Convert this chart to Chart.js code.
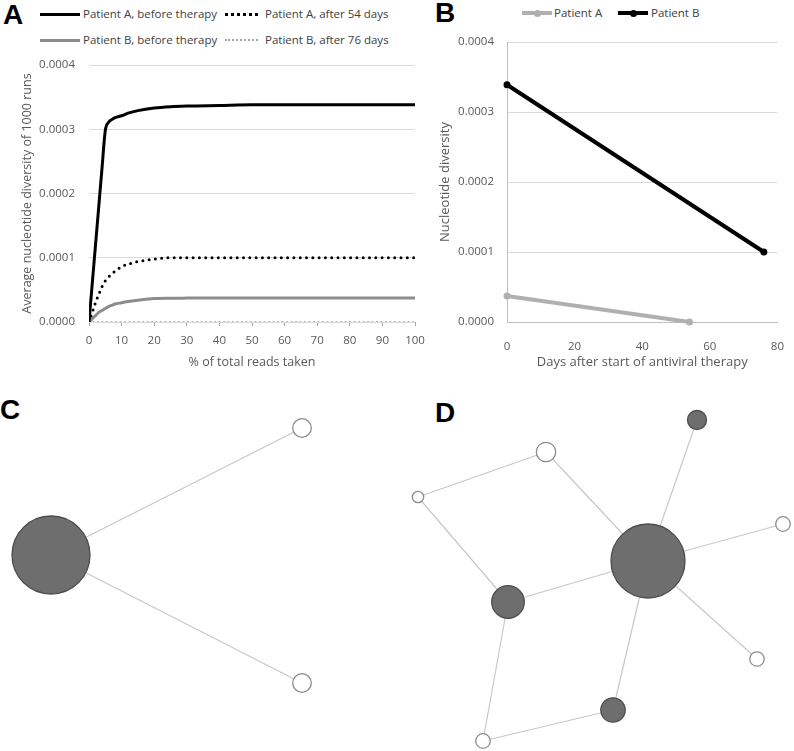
<!DOCTYPE html>
<html>
<head>
<meta charset="utf-8">
<script src="https://cdn.jsdelivr.net/npm/chart.js@4.4.1/dist/chart.umd.min.js"></script>
<style>
  body { margin: 0; background: #fff; width: 794px; height: 751px; position: relative; overflow: hidden; font-family: "Open Sans", sans-serif; }
  canvas { position: absolute; }
  .panel-label { position: absolute; font: bold 28px "Liberation Sans", Arial, sans-serif; line-height: 28px; color: #000; }
  .leg { position: absolute; font-size: 11.5px; color: #404040; line-height: 14px; white-space: nowrap; }
  .swatch { position: absolute; height: 0; }
  .marker { position: absolute; width: 7px; height: 7px; border-radius: 50%; }
</style>
</head>
<body>
<div class="panel-label" style="left:3px;top:1px">A</div>
<div class="panel-label" style="left:435px;top:-1px">B</div>
<div class="panel-label" style="left:0px;top:396px">C</div>
<div class="panel-label" style="left:435px;top:399px">D</div>

<!-- legend A -->
<div class="swatch" style="left:40px;top:12.5px;width:40px;border-top:3px solid #000"></div>
<div class="leg" style="left:83px;top:7px">Patient A, before therapy</div>
<div class="swatch" style="left:225px;top:12.5px;width:33px;border-top:3px dotted #000"></div>
<div class="leg" style="left:265px;top:7px">Patient A, after 54 days</div>
<div class="swatch" style="left:40px;top:38.5px;width:40px;border-top:3px solid #8c8c8c"></div>
<div class="leg" style="left:83px;top:33px">Patient B, before therapy</div>
<div class="swatch" style="left:225px;top:39px;width:33px;border-top:2px dotted #a6a6a6"></div>
<div class="leg" style="left:265px;top:33px">Patient B, after 76 days</div>

<!-- legend B -->
<div class="swatch" style="left:522px;top:11px;width:30px;border-top:4px solid #b0b0b0"></div>
<div class="marker" style="left:534px;top:10px;background:#b0b0b0"></div>
<div class="leg" style="left:554px;top:6px">Patient A</div>
<div class="swatch" style="left:618px;top:11px;width:30px;border-top:4px solid #000"></div>
<div class="marker" style="left:630px;top:10px;background:#000"></div>
<div class="leg" style="left:651px;top:6px">Patient B</div>

<canvas id="chartA" width="440" height="380" style="left:0;top:0"></canvas>
<canvas id="chartB" width="364" height="380" style="left:430px;top:0"></canvas>
<canvas id="chartC" width="400" height="371" style="left:0;top:380px"></canvas>
<canvas id="chartD" width="394" height="371" style="left:400px;top:380px"></canvas>

<script>
// --- Panel A: rarefaction curves ---
const readsPct = [0, 1, 2, 3, 4, 5, 6, 7, 8, 10, 12, 15, 20, 25, 30, 40, 50, 60, 70, 80, 90, 100];
const aBefore = [0, 0.00006, 0.00012, 0.00018, 0.00024, 0.000298, 0.000311, 0.000315, 0.000318, 0.000321, 0.000325, 0.000329, 0.000333, 0.000335, 0.000336, 0.000337, 0.000338, 0.000338, 0.000338, 0.000338, 0.000338, 0.000338];
const aAfter = [0, 0.000015, 0.00003, 0.000043, 0.000055, 0.000064, 0.00007, 0.000075, 0.000079, 0.000086, 0.00009, 0.000094, 0.000098, 0.0001, 0.0001, 0.0001, 0.0001, 0.0001, 0.0001, 0.0001, 0.0001, 0.0001];
const bBefore = [0, 0.000005, 0.00001, 0.000015, 0.000018, 0.000021, 0.000024, 0.000026, 0.000028, 0.00003, 0.000032, 0.000034, 0.0000365, 0.000037, 0.0000372, 0.0000375, 0.0000375, 0.0000375, 0.0000375, 0.0000375, 0.0000375, 0.0000375];
const bAfter = [0, 0, 0, 0, 0, 0, 0, 0, 0, 0, 0, 0, 0, 0, 0, 0, 0, 0, 0, 0, 0, 0];

// --- Panel B: diversity over time ---
const patientADays = [0, 54];
const patientADiv = [0.000037, 0];
const patientBDays = [0, 76];
const patientBDiv = [0.000339, 0.0001];

// --- Panel C / D: haplotype networks (layout position and node radius) ---
const netCX = [51, 302, 302];
const netCY = [175, 48, 303];
const netCR = [39, 9.3, 9.3];
const netCFilled = [true, false, false];
const netCFrom = [0, 0];
const netCTo = [1, 2];

const netDX = [248, 297, 146, 18, 383, 108, 357, 213, 83];
const netDY = [181, 40, 72, 117, 144, 222, 279, 330, 361];
const netDR = [37, 9.5, 9.7, 5.7, 7.3, 16.3, 7.2, 12.2, 7.3];
const netDFilled = [true, true, false, false, false, true, false, true, false];
const netDFrom = [3, 2, 3, 5, 0, 0, 0, 0, 5, 8];
const netDTo = [2, 0, 5, 0, 1, 4, 6, 7, 8, 7];

Chart.defaults.font.family = "'Open Sans', sans-serif";
Chart.defaults.font.size = 11.5;
Chart.defaults.color = '#595959';
Chart.defaults.animation = false;
Chart.defaults.responsive = false;
Chart.defaults.layout.autoPadding = false;
Chart.defaults.plugins.legend.display = false;
Chart.defaults.plugins.tooltip.enabled = false;

const toPoints = (xs, ys) => xs.map((x, i) => ({ x, y: ys[i] }));
const fixed4 = (v) => Number(v).toFixed(4);

function curve(data, color, width, dash) {
  return {
    data: toPoints(readsPct, data),
    borderColor: color,
    borderWidth: width,
    borderDash: dash || [],
    borderCapStyle: dash ? 'round' : 'butt',
    pointRadius: 0,
    cubicInterpolationMode: 'monotone',
    fill: false,
  };
}

new Chart(document.getElementById('chartA'), {
  type: 'line',
  data: {
    datasets: [
      curve(aBefore, '#000', 3),
      curve(aAfter, '#000', 3, [0, 6.3]),
      curve(bBefore, '#8c8c8c', 3),
      curve(bAfter, '#a6a6a6', 2, [0, 4.5]),
    ],
  },
  options: {
    layout: { padding: { top: 65, right: 25, left: 0, bottom: 0 } },
    scales: {
      x: {
        type: 'linear', min: 0, max: 100,
        ticks: { stepSize: 10, padding: 8 },
        grid: { drawOnChartArea: false, tickLength: 4, color: '#a6a6a6' },
        border: { display: false },
        title: { display: true, text: '% of total reads taken', font: { size: 12.5 }, padding: { top: 0, bottom: 10 } },
        afterFit: (s) => { s.height = 58; },
      },
      y: {
        min: 0, max: 0.0004,
        ticks: { stepSize: 0.0001, padding: 14, callback: fixed4 },
        grid: { color: '#d9d9d9', drawTicks: false },
        border: { display: false },
        title: { display: true, text: 'Average nucleotide diversity of 1000 runs', font: { size: 12.5 }, padding: { top: 20 } },
        afterFit: (s) => { s.width = 89; },
      },
    },
  },
});

new Chart(document.getElementById('chartB'), {
  type: 'line',
  data: {
    datasets: [
      {
        label: 'Patient A',
        data: toPoints(patientADays, patientADiv),
        borderColor: '#b0b0b0', backgroundColor: '#b0b0b0',
        borderWidth: 4, pointRadius: 3.5, pointBorderWidth: 0, clip: false,
      },
      {
        label: 'Patient B',
        data: toPoints(patientBDays, patientBDiv),
        borderColor: '#000', backgroundColor: '#000',
        borderWidth: 4, pointRadius: 3.5, pointBorderWidth: 0, clip: false,
      },
    ],
  },
  options: {
    layout: { padding: { top: 42, right: 16, left: 0, bottom: 0 } },
    scales: {
      x: {
        type: 'linear', min: 0, max: 80,
        ticks: { stepSize: 20, padding: 10 },
        grid: { display: false },
        border: { color: '#bfbfbf' },
        title: { display: true, text: 'Days after start of antiviral therapy', font: { size: 13 }, padding: { top: 0, bottom: 10 } },
        afterFit: (s) => { s.height = 58; },
      },
      y: {
        min: 0, max: 0.0004,
        ticks: { stepSize: 0.0001, padding: 13, callback: fixed4 },
        grid: { color: '#d9d9d9', drawTicks: false },
        border: { color: '#bfbfbf' },
        title: { display: true, text: 'Nucleotide diversity', font: { size: 13 }, padding: { top: 7 } },
        afterFit: (s) => { s.width = 77; },
      },
    },
  },
});

function networkChart(id, w, h, xs, ys, rs, filled, from, to) {
  const edges = from.map((f, i) => ({
    type: 'line',
    data: [{ x: xs[f], y: ys[f] }, { x: xs[to[i]], y: ys[to[i]] }],
    borderColor: '#c8c8c8',
    borderWidth: 1.2,
    pointRadius: 0,
    order: 1,
  }));
  const nodes = {
    type: 'scatter',
    data: toPoints(xs, ys),
    pointRadius: rs,
    pointBackgroundColor: filled.map((f) => (f ? '#6e6e6e' : '#ffffff')),
    pointBorderColor: filled.map((f) => (f ? '#4e4e4e' : '#8c8c8c')),
    pointBorderWidth: 1.3,
    clip: false,
    order: 0,
  };
  new Chart(document.getElementById(id), {
    type: 'scatter',
    data: { datasets: [...edges, nodes] },
    options: {
      layout: { padding: 0, autoPadding: false },
      scales: {
        x: { type: 'linear', min: 0, max: w, display: false },
        y: { type: 'linear', min: 0, max: h, reverse: true, display: false },
      },
    },
  });
}

networkChart('chartC', 400, 371, netCX, netCY, netCR, netCFilled, netCFrom, netCTo);
networkChart('chartD', 394, 371, netDX, netDY, netDR, netDFilled, netDFrom, netDTo);
</script>
</body>
</html>
